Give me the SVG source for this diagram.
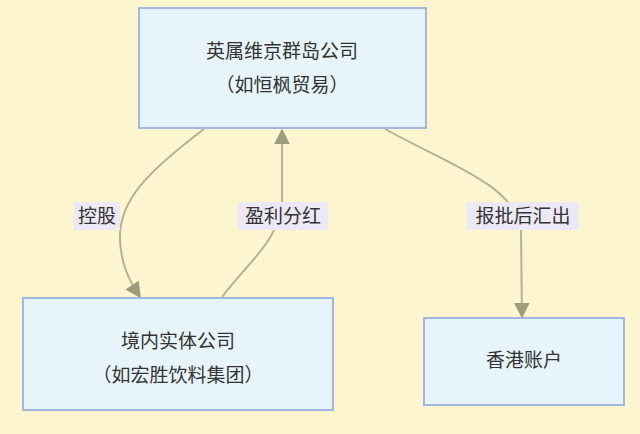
<svg xmlns="http://www.w3.org/2000/svg" width="640" height="434" viewBox="0 0 640 434">
<style>
.n{fill:#e7f4fb;stroke:#a3b6de;stroke-width:2}
.t{font-family:"Noto Sans CJK SC","Noto Sans",sans-serif;font-size:19px;fill:#333;text-anchor:middle}
.e{fill:none;stroke:#b5b38e;stroke-width:2}
.lb{fill:#ece8f5}
</style>
<defs><marker id="a" viewBox="0 0 10 10" refX="9" refY="5" markerWidth="8" markerHeight="8" orient="auto-start-reverse"><path d="M0,0L10,5L0,10z" fill="#9d9c7c"/></marker></defs>
<rect width="640" height="434" fill="#fdf5d0"/>
<g id="edges">
<path class="e" d="M204,129 C150,170 118,200 120,240 C121,265 130,282 140,297" marker-end="url(#a)"/>
<path class="e" d="M222,297 C250,260 280,240 282,200 L282,130" marker-end="url(#a)"/>
<path class="e" d="M385,129 C450,165 515,185 521,230 L522,317" marker-end="url(#a)"/>
<rect class="lb" x="74" y="202" width="46" height="28"/><text class="t" x="97" y="223">控股</text>
<rect class="lb" x="238" y="202" width="90" height="28"/><text class="t" x="283" y="223">盈利分红</text>
<rect class="lb" x="467" y="202" width="112" height="28"/><text class="t" x="523" y="223">报批后汇出</text>
</g>
<g id="bvi"><rect class="n" x="139" y="8" width="287" height="120"/><text class="t" x="282" y="58">英属维京群岛公司</text><text class="t" x="282" y="92">（如恒枫贸易）</text></g>
<g id="local"><rect class="n" x="23" y="298" width="310" height="112"/><text class="t" x="178" y="348">境内实体公司</text><text class="t" x="178" y="382">（如宏胜饮料集团）</text></g>
<g id="hk"><rect class="n" x="424" y="318" width="200" height="87"/><text class="t" x="524" y="367">香港账户</text></g>
</svg>
